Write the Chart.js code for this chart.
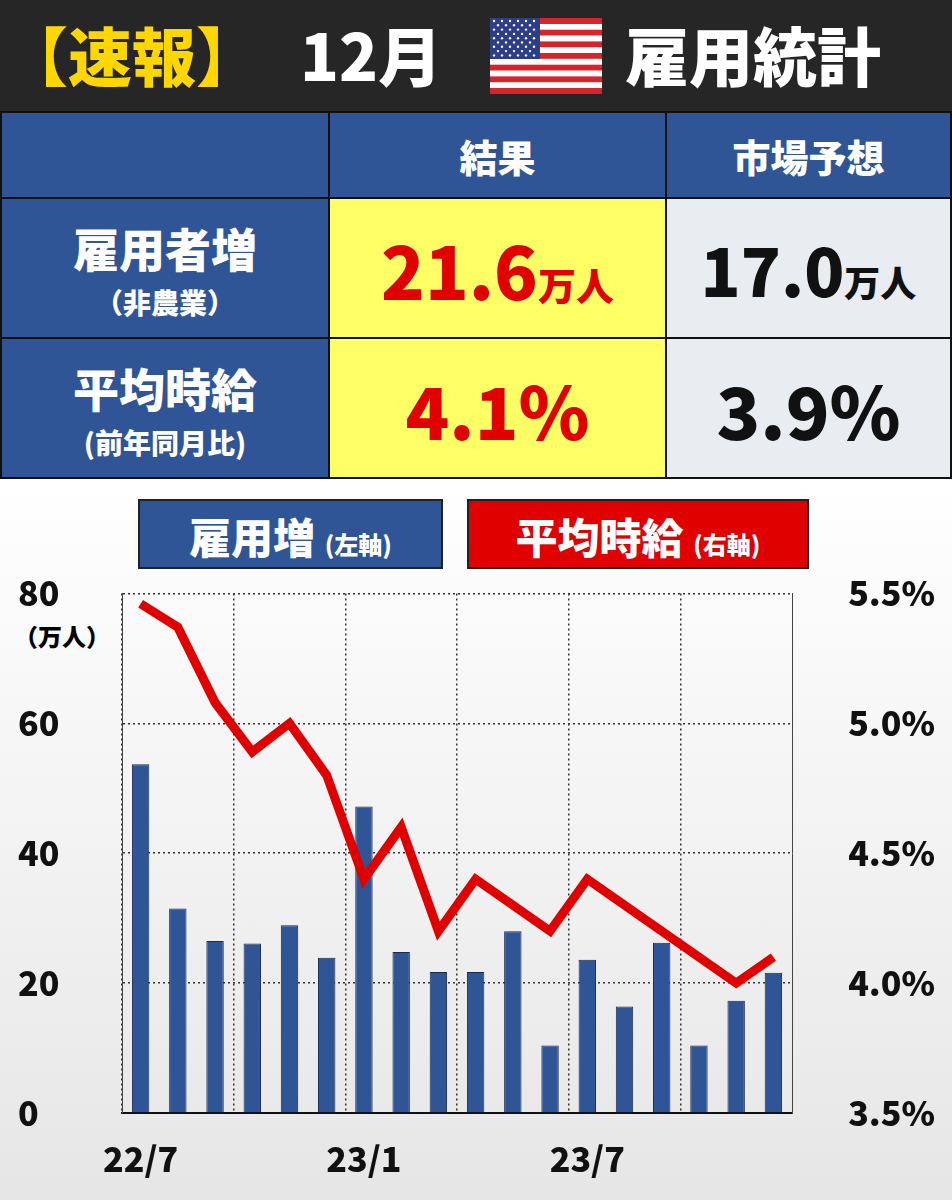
<!DOCTYPE html>
<html>
<head>
<meta charset="utf-8">
<script src="https://cdn.jsdelivr.net/npm/chart.js@4/dist/chart.umd.min.js"></script>
<style>
  body { margin: 0; width: 952px; height: 1200px; font-family: "Noto Sans CJK JP", "Noto Sans", sans-serif; font-weight: 900; position: relative; overflow: hidden; background: #fff; }
  .head { position: absolute; left: 0; top: 0; width: 952px; height: 111px; background: #262626; color: #fff; font-size: 64px; }
  .head span { position: absolute; top: 10px; line-height: 86px; }
  table { position: absolute; left: 0; top: 111px; width: 952px; border-collapse: collapse; }
  td { border: 2px solid #111; text-align: center; padding: 0; }
  .bl { background: #2f5597; color: #fff; }
  .ye { background: #ffff66; color: #e00000; }
  .gr { background: #e9ecf1; color: #111; }
  .sub { font-size: 28px; display: block; margin-top: 2px; }
  .chartbox { position: absolute; left: 0; top: 480px; width: 952px; height: 720px; background: linear-gradient(#ffffff, #e6e6e6); }
  .leg { position: absolute; top: 499px; height: 70px; line-height: 70px; color: #fff; font-size: 42px; text-align: center; border: 2px solid #222; box-sizing: border-box; }
  .leg small { font-size: 24px; }
  #wrap { position: absolute; left: 0; top: 570px; width: 952px; height: 630px; }
</style>
</head>
<body>
<div class="head">
  <span style="left:4px;color:#ffd700">【速報】</span>
  <span style="left:300px">12月</span>
  <svg style="position:absolute;left:490px;top:18px" width="112" height="76" viewBox="0 0 112 76">
    <rect width="112" height="76" fill="#fff"/>
    <g fill="#d7242a">
      <rect y="0" width="112" height="6"/><rect y="11.7" width="112" height="5.8"/><rect y="23.4" width="112" height="5.8"/>
      <rect y="35" width="112" height="5.8"/><rect y="46.7" width="112" height="5.8"/><rect y="58.4" width="112" height="5.8"/><rect y="70" width="112" height="6"/>
    </g>
    <rect width="50" height="41" fill="#2c3e86"/>
    <g fill="#fff" id="st"></g>
  </svg>
  <span style="left:625px">雇用統計</span>
</div>
<table>
  <tr style="height:86px"><td class="bl" style="width:326px"></td><td class="bl" style="width:335px;font-size:38px">結果</td><td class="bl" style="font-size:38px">市場予想</td></tr>
  <tr style="height:140px"><td class="bl" style="font-size:46px">雇用者増<span class="sub">（非農業）</span></td><td class="ye" style="font-size:72px">21.6<span style="font-size:38px">万人</span></td><td class="gr" style="font-size:66px">17.0<span style="font-size:36px">万人</span></td></tr>
  <tr style="height:140px"><td class="bl" style="font-size:46px">平均時給<span class="sub">(前年同月比)</span></td><td class="ye" style="font-size:72px">4.1%</td><td class="gr" style="font-size:72px">3.9%</td></tr>
</table>
<div class="chartbox"></div>
<div class="leg" style="left:138px;width:305px;background:#2f5597">雇用増 <small>(左軸)</small></div>
<div class="leg" style="left:467px;width:342px;background:#e00000">平均時給 <small>(右軸)</small></div>
<div style="position:absolute;left:14px;top:618px;font-size:24px">（万人）</div>
<div id="wrap"><canvas id="c"></canvas></div>
<script>
// flag stars
const st = document.getElementById("st");
for (let r = 0; r < 9; r++) {
  const n = r % 2 ? 5 : 6;
  for (let i = 0; i < n; i++) {
    const c = document.createElementNS("http://www.w3.org/2000/svg", "circle");
    c.setAttribute("cx", 4 + i * 8 + (r % 2 ? 4 : 0));
    c.setAttribute("cy", 3 + r * 4.3);
    c.setAttribute("r", 1.2);
    st.appendChild(c);
  }
}

const months = ["22/7","22/8","22/9","22/10","22/11","22/12","23/1","23/2","23/3","23/4","23/5","23/6","23/7","23/8","23/9","23/10","23/11","23/12"];
const shownLabels = ["22/7", "23/1", "23/7"];
const payrolls = [53.7, 31.5, 26.5, 26.1, 28.9, 23.9, 47.2, 24.8, 21.7, 21.7, 28.0, 10.4, 23.6, 16.4, 26.2, 10.4, 17.3, 21.6];
const wages = [5.46, 5.37, 5.08, 4.89, 5.0, 4.8, 4.4, 4.6, 4.2, 4.4, 4.3, 4.2, 4.4, 4.3, 4.2, 4.1, 4.0, 4.1];

const tickFont = { family: "Noto Sans CJK JP", size: 34, weight: "900" };

new Chart(document.getElementById("c"), {
  data: {
    labels: months,
    datasets: [
      {
        type: "line",
        data: wages,
        yAxisID: "y2",
        borderColor: "#e00000",
        borderWidth: 9,
        pointRadius: 0,
        tension: 0,
        order: 0,
      },
      {
        type: "bar",
        data: payrolls,
        yAxisID: "y",
        backgroundColor: "#2f5597",
        borderColor: "#1a2a4a",
        borderWidth: 1,
        barPercentage: 0.85,
        categoryPercentage: 0.55,
        order: 1,
      },
    ],
  },
  options: {
    responsive: true,
    maintainAspectRatio: false,
    animation: false,
    layout: { padding: { top: 20, left: 18, right: 17, bottom: 0 } },
    plugins: { legend: { display: false }, tooltip: { enabled: false } },
    scales: {
      x: {
        offset: true,
        grid: {
          offset: true,
          color: (ctx) => (ctx.index % 3 === 0 ? "#333" : "transparent"),
          lineWidth: 1.5,
          tickLength: 0,
        },
        border: { display: true, color: "#111", width: 2, dash: [2, 3] },
        ticks: {
          autoSkip: false,
          maxRotation: 0,
          color: "#111",
          font: tickFont,
          padding: 26,
          callback: function (v, i) {
            const l = months[i];
            return shownLabels.includes(l) ? l : "";
          },
        },
        afterFit: (s) => { s.height = 87; },
      },
      y: {
        position: "left",
        min: 0,
        max: 80,
        ticks: { stepSize: 20, color: "#111", font: tickFont, crossAlign: "far" },
        grid: { color: "#333", lineWidth: 1.5, drawTicks: false },
        border: { display: true, color: "#444", dash: [2, 3] },
        afterFit: (s) => { s.width = 104; },
      },
      y2: {
        position: "right",
        min: 3.5,
        max: 5.5,
        ticks: { stepSize: 0.5, color: "#111", font: tickFont, crossAlign: "far", callback: (v) => v.toFixed(1) + "%" },
        grid: { display: false },
        border: { display: true, color: "#444", dash: [2, 3] },
        afterFit: (s) => { s.width = 143; },
      },
    },
  },
});
</script>
</body>
</html>
